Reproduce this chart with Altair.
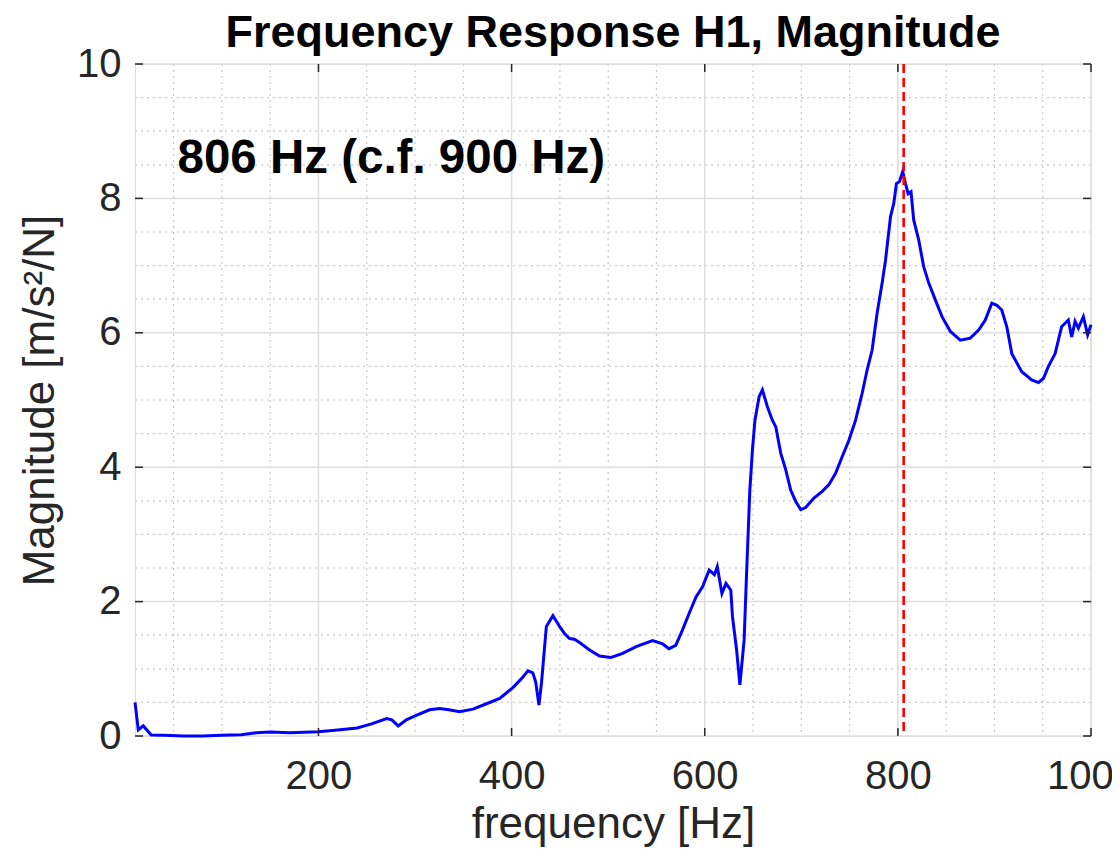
import altair as alt
import pandas as pd

# ---- data ----
freq = [10, 13.4, 18.6, 26.8, 40, 60, 80, 100, 120, 136, 150, 170, 200, 220, 240, 255,
        270.6, 276, 282.6, 291, 300, 315, 325.7, 335, 346, 360, 374, 387.7, 401.4, 410,
        417, 422, 425, 428.3, 431, 436, 442.8, 449.7, 455, 460, 465, 470.4, 480.7, 491,
        503, 515, 529, 546, 556.4, 563, 570, 577, 584, 591, 597.7, 604.6, 610, 613,
        617.8, 622, 627, 628.7, 633, 636.4, 640.8, 643.2, 646.7, 649.4, 652, 656.3,
        659.7, 664.9, 670, 673.6, 678.7, 683.9, 689, 694.2, 699.4, 704.5, 713.1, 721.7,
        728.6, 735.5, 742.4, 749.3, 756.2, 763, 768.2, 773.3, 778.5, 783.7, 787.2,
        792.4, 795.8, 798.5, 801.7, 805, 807.9, 810.6, 813.6, 816.4, 821.6, 826.8, 832,
        838.8, 845.7, 854.4, 864.7, 875, 883.6, 890.5, 897.3, 902.5, 907.6, 912.8, 918,
        928.3, 938.6, 945.6, 950.7, 955.9, 962.8, 969.6, 976.5, 980, 983.5, 986.9,
        992.1, 996.5, 1000]
mag = [0.50, 0.09, 0.15, 0.015, 0.01, 0.0, 0.0, 0.01, 0.02, 0.05, 0.06, 0.05, 0.065, 0.09, 0.12, 0.18,
       0.26, 0.24, 0.15, 0.24, 0.30, 0.39, 0.41, 0.39, 0.36, 0.40, 0.48, 0.56, 0.72, 0.85,
       0.97, 0.94, 0.80, 0.46, 0.80, 1.63, 1.79, 1.63, 1.52, 1.45, 1.44, 1.39, 1.28, 1.19,
       1.17, 1.23, 1.33, 1.42, 1.37, 1.30, 1.35, 1.58, 1.83, 2.07, 2.22, 2.47, 2.40, 2.52,
       2.12, 2.27, 2.17, 1.78, 1.28, 0.76, 1.43, 2.37, 3.66, 4.26, 4.70, 5.05,
       5.15, 4.90, 4.70, 4.60, 4.21, 3.96, 3.66, 3.49, 3.37, 3.40, 3.54, 3.64,
       3.74, 3.91, 4.16, 4.40, 4.70, 5.10, 5.45, 5.74, 6.29, 6.74, 7.08,
       7.73, 7.93, 8.22, 8.25, 8.40, 8.22, 8.07, 8.10, 7.68, 7.38, 6.98, 6.74,
       6.49, 6.24, 6.02, 5.89, 5.92, 6.04, 6.19, 6.44, 6.41, 6.34, 6.09, 5.69,
       5.42, 5.30, 5.26, 5.32, 5.50, 5.69, 6.09, 6.19, 5.94, 6.17, 6.07,
       6.24, 5.97, 6.12]

x_major = [200, 400, 600, 800, 1000]
x_minor = [50, 100, 150, 250, 300, 350, 450, 500, 550, 650, 700, 750, 850, 900, 950]
y_major = [0, 2, 4, 6, 8, 10]
y_minor = [0.5, 1, 1.5, 2.5, 3, 3.5, 4.5, 5, 5.5, 6.5, 7, 7.5, 8.5, 9, 9.5]

marker_freq = [806]
note_text = ["806 Hz (c.f. 900 Hz)"]
note_f = [54]
note_m = [8.38]

title_text = "Frequency Response H1, Magnitude"
x_title = "frequency [Hz]"
y_title = "Magnitude [m/s\u00b2/N]"

# ---- tables ----
df_line = pd.DataFrame({"f": freq, "m": mag})
df_xmaj = pd.DataFrame({"f": x_major})
df_xmin = pd.DataFrame({"f": x_minor})
df_ymaj = pd.DataFrame({"m": y_major})
df_ymin = pd.DataFrame({"m": y_minor})
df_mark = pd.DataFrame({"f": marker_freq})
df_note = pd.DataFrame({"f": note_f, "m": note_m, "t": note_text})

W, H = 956, 672
FONT = "Liberation Sans"
AX = "#262626"
TICK = 8

xs = alt.Scale(domain=[10, 1000], nice=False, zero=False)
ys = alt.Scale(domain=[0, 10], nice=False, zero=False)

xa = alt.Axis(values=x_major, format="d", grid=False, ticks=False, domain=False,
              labelFontSize=40, labelFont=FONT, labelColor=AX,
              labelPadding=20, labelFlush=False, labelOverlap=False,
              titleFontSize=44, titleFont=FONT, titleColor=AX,
              titleFontWeight="normal", titlePadding=6)
ya = alt.Axis(values=y_major, format="d", grid=False, ticks=False, domain=False,
              labelFontSize=40, labelFont=FONT, labelColor=AX,
              labelPadding=14, labelFlush=False, labelOverlap=False,
              titleFontSize=44, titleFont=FONT, titleColor=AX,
              titleFontWeight="normal", titlePadding=14)


def X():
    return alt.X("f:Q", scale=xs, title=x_title, axis=xa)


def Y():
    return alt.Y("m:Q", scale=ys, title=y_title, axis=ya)


minor_x = alt.Chart(df_xmin).mark_rule(color="#c8c8c8", strokeWidth=1.2, strokeDash=[2, 4]).encode(x=X())
minor_y = alt.Chart(df_ymin).mark_rule(color="#c8c8c8", strokeWidth=1.2, strokeDash=[2, 4]).encode(y=Y())
major_x = alt.Chart(df_xmaj).mark_rule(color="#dedede", strokeWidth=1.5).encode(x=X())
major_y = alt.Chart(df_ymaj).mark_rule(color="#dedede", strokeWidth=1.5).encode(y=Y())

line = alt.Chart(df_line).mark_line(color="#0000FF", strokeWidth=3).encode(
    x=X(), y=Y(), order="f:Q")

marker = alt.Chart(df_mark).mark_rule(color="#FF0000", strokeWidth=2.6, strokeDash=[9, 5]).encode(x=X())

note = alt.Chart(df_note).mark_text(align="left", baseline="alphabetic", fontSize=47.5,
                                     fontWeight="bold", font=FONT, color="black").encode(
    x=X(), y=Y(), text="t:N")

tick_style = dict(color=AX, strokeWidth=1.5)
tick_bottom = alt.Chart(df_xmaj).mark_rule(**tick_style).encode(
    x=X(), y=alt.value(H), y2=alt.value(H - TICK))
tick_top = alt.Chart(df_xmaj).mark_rule(**tick_style).encode(
    x=X(), y=alt.value(0), y2=alt.value(TICK))
tick_left = alt.Chart(df_ymaj).mark_rule(**tick_style).encode(
    y=Y(), x=alt.value(0), x2=alt.value(TICK))
tick_right = alt.Chart(df_ymaj).mark_rule(**tick_style).encode(
    y=Y(), x=alt.value(W), x2=alt.value(W - TICK))

chart = alt.layer(
    minor_x, minor_y, major_x, major_y, line, marker, note,
    tick_bottom, tick_top, tick_left, tick_right,
).properties(
    width=W, height=H,
    title=alt.TitleParams(title_text, fontSize=45, fontWeight="bold", font=FONT,
                          color="black", anchor="middle", frame="group", offset=-12),
    autosize=alt.AutoSizeParams(type="none"),
    padding={"left": 127, "top": 56, "right": 21, "bottom": 112},
).configure_view(
    stroke="#4a4a4a", strokeWidth=2
).configure(background="white")

chart.save("out.html", embed_options={"renderer": "svg", "actions": False})
